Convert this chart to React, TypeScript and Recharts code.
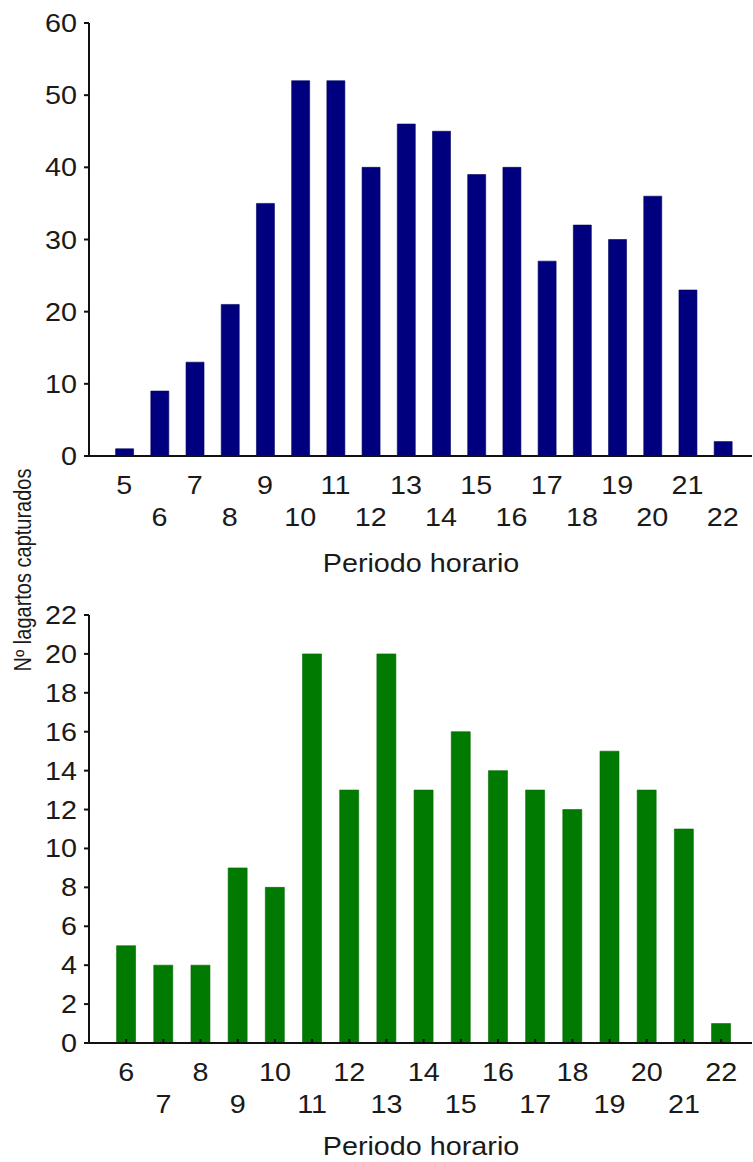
import React from 'react';
import { BarChart, Bar, XAxis, YAxis } from 'recharts';

const hoursTop = [5, 6, 7, 8, 9, 10, 11, 12, 13, 14, 15, 16, 17, 18, 19, 20, 21, 22];
const countsTop = [1, 9, 13, 21, 35, 52, 52, 40, 46, 45, 39, 40, 27, 32, 30, 36, 23, 2];
const hoursBottom = [6, 7, 8, 9, 10, 11, 12, 13, 14, 15, 16, 17, 18, 19, 20, 21, 22];
const countsBottom = [5, 4, 4, 9, 8, 20, 13, 20, 13, 16, 14, 13, 12, 15, 13, 11, 1];
const yTicksTop = [0, 10, 20, 30, 40, 50, 60];
const yTicksBottom = [0, 2, 4, 6, 8, 10, 12, 14, 16, 18, 20, 22];
const xLabel = 'Periodo horario';
const yLabel = 'Nº lagartos capturados';

const topData = hoursTop.map((h, i) => ({ h, v: countsTop[i] }));
const bottomData = hoursBottom.map((h, i) => ({ h, v: countsBottom[i] }));

const FONT = '"Liberation Sans", Arial, Helvetica, sans-serif';
const SX = 1.15;

const makeXTick = (lowerIsOdd: boolean, inner: boolean) => (props: any) => {
  const { x, y, payload } = props;
  const val = Number(payload.value);
  const isOdd = val % 2 === 1;
  const firstRow = lowerIsOdd ? isOdd : !isOdd;
  const off = firstRow ? 29 : 61;
  return (
    <g>
      {inner ? <line x1={x} x2={x} y1={y} y2={y - 4} stroke="#111" strokeWidth={2} /> : null}
      <g transform={`translate(${x},${y + off}) scale(${SX},1)`}>
        <text x={0} y={0} dy="0.36em" textAnchor="middle" fontSize={25} fontFamily={FONT} fill="#1a1a1a">
          {payload.value}
        </text>
      </g>
    </g>
  );
};

const YTick = (props: any) => {
  const { x, y, payload } = props;
  return (
    <g transform={`translate(${x - 7},${y}) scale(${SX},1)`}>
      <text x={0} y={0} dy="0.36em" textAnchor="end" fontSize={25} fontFamily={FONT} fill="#1a1a1a">
        {payload.value}
      </text>
    </g>
  );
};

export default function App() {
  return (
    <div style={{ position: 'absolute', left: 0, top: 0, width: 753, height: 1162, background: '#fff' }}>
      <div style={{ position: 'absolute', left: 0, top: 0 }}>
        <BarChart width={753} height={600} data={topData} margin={{ top: 23, right: 1, left: 0, bottom: 0 }}>
          <XAxis
            dataKey="h"
            type="number"
            domain={[4.0, 22.83]}
            ticks={hoursTop}
            interval={0}
            allowDataOverflow
            height={144}
            tickSize={0}
            tickMargin={0}
            tickLine={false}
            axisLine={{ stroke: '#111', strokeWidth: 2 }}
            tick={makeXTick(true, false)}
          />
          <YAxis
            type="number"
            domain={[0, 60]}
            ticks={yTicksTop}
            interval={0}
            width={89}
            tickSize={5}
            tickMargin={0}
            tickLine={{ stroke: '#111', strokeWidth: 2 }}
            axisLine={{ stroke: '#111', strokeWidth: 2 }}
            tick={YTick}
          />
          <Bar dataKey="v" fill="#00007f" stroke="#000060" strokeWidth={0.6} barSize={18} isAnimationActive={false} />
        </BarChart>
      </div>
      <div style={{ position: 'absolute', left: 0, top: 600 }}>
        <BarChart width={753} height={562} data={bottomData} margin={{ top: 15, right: 1, left: 0, bottom: 0 }}>
          <XAxis
            dataKey="h"
            type="number"
            domain={[5.0, 22.83]}
            ticks={hoursBottom}
            interval={0}
            allowDataOverflow
            height={119}
            tickSize={0}
            tickMargin={0}
            tickLine={false}
            axisLine={{ stroke: '#111', strokeWidth: 2 }}
            tick={makeXTick(false, true)}
          />
          <YAxis
            type="number"
            domain={[0, 22]}
            ticks={yTicksBottom}
            interval={0}
            width={89}
            tickSize={5}
            tickMargin={0}
            tickLine={{ stroke: '#111', strokeWidth: 2 }}
            axisLine={{ stroke: '#111', strokeWidth: 2 }}
            tick={YTick}
          />
          <Bar dataKey="v" fill="#007a00" stroke="#006a00" strokeWidth={0.6} barSize={19} isAnimationActive={false} />
        </BarChart>
      </div>
      <svg width={753} height={1162} style={{ position: 'absolute', left: 0, top: 0, pointerEvents: 'none' }}>
        <g transform={`translate(421,563) scale(${SX},1)`}>
          <text x={0} y={0} dy="0.36em" textAnchor="middle" fontSize={25} fontFamily={FONT} fill="#1a1a1a">{xLabel}</text>
        </g>
        <g transform={`translate(421,1146) scale(${SX},1)`}>
          <text x={0} y={0} dy="0.36em" textAnchor="middle" fontSize={25} fontFamily={FONT} fill="#1a1a1a">{xLabel}</text>
        </g>
        <g transform="translate(31,570) rotate(-90) scale(1,1.15)">
          <text x={0} y={0} textAnchor="middle" fontSize={20} fontFamily={FONT} fill="#1a1a1a">{yLabel}</text>
        </g>
      </svg>
    </div>
  );
}
